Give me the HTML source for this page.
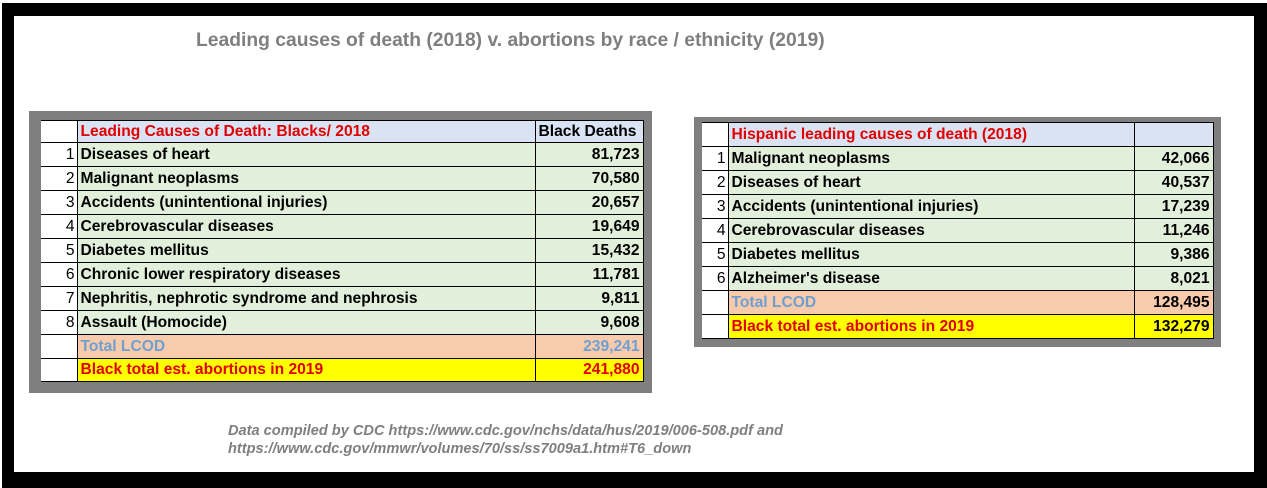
<!DOCTYPE html>
<html><head><meta charset="utf-8"><style>
*{margin:0;padding:0;box-sizing:border-box}
body{width:1267px;height:488px;background:#fff;position:relative;overflow:hidden;font-family:"Liberation Sans",Arial,sans-serif}
.frame{position:absolute;left:2px;top:3px;width:1265px;height:485px;border-style:solid;border-color:#000;border-width:13px 13px 16px 12px}
.title{position:absolute;left:196px;top:30px;width:680px;font-size:19.3px;font-weight:bold;color:#7f7f7f;white-space:nowrap}
.gray{position:absolute;background:#7f7f7f}
table{position:absolute;border-collapse:collapse;font-size:15.6px;table-layout:fixed}
td{border:1px solid #000;padding:0 3px;white-space:nowrap;overflow:hidden;font-weight:bold;color:#000;line-height:20px}
td.n{background:#fff;text-align:right;font-weight:normal;border-left:none;padding-right:2px}
td.v{text-align:right}
tr.h td{background:#dae3f3}
tr.h td.l{color:#e00000}
tr.r td{background:#e2efda}
tr.t td{background:#f8cbad;color:#6f9fd0}
tr.y td{background:#ffff00;color:#e00000}
tr td.n{background:#fff!important}
.foot{position:absolute;left:228px;top:422px;font-size:14.6px;font-style:italic;font-weight:bold;color:#7f7f7f;line-height:18px}
</style></head><body>
<div class="frame"></div>
<div class="title">Leading causes of death (2018) v. abortions by race / ethnicity (2019)</div>

<div class="gray" style="left:29px;top:111px;width:623px;height:282px"></div>
<table style="left:41px;top:120px;width:602px">
<colgroup><col style="width:36px"><col style="width:458px"><col style="width:108px"></colgroup>
<tr class="h" style="height:22px"><td class="n"></td><td class="l">Leading Causes of Death: Blacks/ 2018</td><td>Black Deaths</td></tr>
<tr class="r" style="height:24px"><td class="n">1</td><td>Diseases of heart</td><td class="v">81,723</td></tr>
<tr class="r" style="height:24px"><td class="n">2</td><td>Malignant neoplasms</td><td class="v">70,580</td></tr>
<tr class="r" style="height:24px"><td class="n">3</td><td>Accidents (unintentional injuries)</td><td class="v">20,657</td></tr>
<tr class="r" style="height:24px"><td class="n">4</td><td>Cerebrovascular diseases</td><td class="v">19,649</td></tr>
<tr class="r" style="height:24px"><td class="n">5</td><td>Diabetes mellitus</td><td class="v">15,432</td></tr>
<tr class="r" style="height:24px"><td class="n">6</td><td>Chronic lower respiratory diseases</td><td class="v">11,781</td></tr>
<tr class="r" style="height:24px"><td class="n">7</td><td>Nephritis, nephrotic syndrome and nephrosis</td><td class="v">9,811</td></tr>
<tr class="r" style="height:24px"><td class="n">8</td><td>Assault (Homocide)</td><td class="v">9,608</td></tr>
<tr class="t" style="height:24px"><td class="n"></td><td>Total LCOD</td><td class="v">239,241</td></tr>
<tr class="y" style="height:23px"><td class="n"></td><td>Black total est. abortions in 2019</td><td class="v">241,880</td></tr>
</table>

<div class="gray" style="left:694px;top:117px;width:527px;height:230px"></div>
<table style="left:702px;top:122px;width:511px">
<colgroup><col style="width:26px"><col style="width:406px"><col style="width:79px"></colgroup>
<tr class="h" style="height:24px"><td class="n"></td><td class="l">Hispanic leading causes of death (2018)</td><td></td></tr>
<tr class="r" style="height:24px"><td class="n">1</td><td>Malignant neoplasms</td><td class="v">42,066</td></tr>
<tr class="r" style="height:24px"><td class="n">2</td><td>Diseases of heart</td><td class="v">40,537</td></tr>
<tr class="r" style="height:24px"><td class="n">3</td><td>Accidents (unintentional injuries)</td><td class="v">17,239</td></tr>
<tr class="r" style="height:24px"><td class="n">4</td><td>Cerebrovascular diseases</td><td class="v">11,246</td></tr>
<tr class="r" style="height:24px"><td class="n">5</td><td>Diabetes mellitus</td><td class="v">9,386</td></tr>
<tr class="r" style="height:24px"><td class="n">6</td><td>Alzheimer's disease</td><td class="v">8,021</td></tr>
<tr class="t" style="height:24px"><td class="n"></td><td>Total LCOD</td><td class="v" style="color:#000">128,495</td></tr>
<tr class="y" style="height:24px"><td class="n"></td><td>Black total est. abortions in 2019</td><td class="v" style="color:#000">132,279</td></tr>
</table>

<div class="foot">Data compiled by CDC https://www.cdc.gov/nchs/data/hus/2019/006-508.pdf and<br>https://www.cdc.gov/mmwr/volumes/70/ss/ss7009a1.htm#T6_down</div>
</body></html>
